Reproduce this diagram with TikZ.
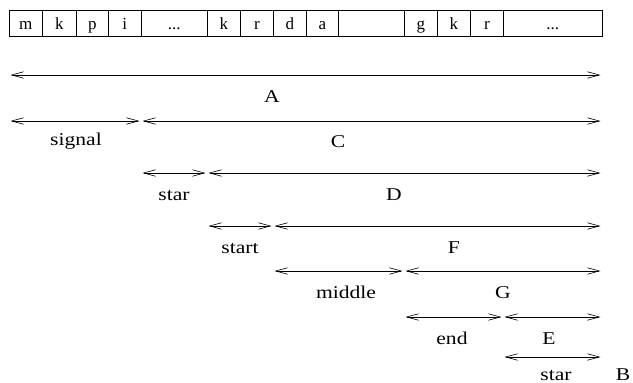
\documentclass[tikz,border=0pt]{standalone}
\usepackage{fontspec}
\setmainfont{Liberation Serif}
\usetikzlibrary{arrows.meta}
\def\celldots{...}
\newcommand\wide[1]{\scalebox{1.2}[1]{#1}}
\begin{document}
\begin{tikzpicture}[x=1pt,y=-1pt,
  cell/.style={draw, line width=0.7pt, minimum height=26.5pt, inner sep=0pt, anchor=north west,
    text height=14pt, text depth=2pt, font=\fontsize{17}{17}\selectfont},
  span/.style={line width=0.6pt, {Straight Barb[length=12pt,width=6.5pt]}-{Straight Barb[length=12pt,width=6.5pt]},
    shorten <=1.5pt, shorten >=1.5pt},
  lbl/.style={font=\fontsize{18}{18}\selectfont, inner sep=0pt, anchor=base}]
\useasboundingbox (0,0) rectangle (633,383);
% cell row
\foreach \x/\w/\t [count=\i] in {9/33/m, 42/34/k, 76/32/p, 108/33/i, 141/66/\celldots, 207/33/k, 240/33/r,
  273/33/d, 306/32/a, 338/66/{}, 404/33/g, 437/33/k, 470/33/r, 503/99/\celldots}
  \node[cell, minimum width=\w pt] (c\i) at (\x,9.5) {\t};
% coordinates
\coordinate (a0) at (9,75);    \coordinate (a1) at (602,75);
\coordinate (b0) at (9,121);   \coordinate (b1) at (141,121);  \coordinate (b2) at (602,121);
\coordinate (d0) at (141,173); \coordinate (d1) at (207,173);  \coordinate (d2) at (602,173);
\coordinate (f0) at (207,226); \coordinate (f1) at (273,226);  \coordinate (f2) at (602,226);
\coordinate (g0) at (273,271); \coordinate (g1) at (404,271);  \coordinate (g2) at (602,271);
\coordinate (e0) at (404,317); \coordinate (e1) at (503,317);  \coordinate (e2) at (602,317);
\coordinate (s0) at (503,357); \coordinate (s1) at (602,357);
% spans
\draw[span] (a0) -- (a1);
\draw[span] (b0) -- (b1);
\draw[span] (b1) -- (b2);
\draw[span] (d0) -- (d1);
\draw[span] (d1) -- (d2);
\draw[span] (f0) -- (f1);
\draw[span] (f1) -- (f2);
\draw[span] (g0) -- (g1);
\draw[span] (g1) -- (g2);
\draw[span] (e0) -- (e1);
\draw[span] (e1) -- (e2);
\draw[span] (s0) -- (s1);
% labels
\node[lbl] (lA) at (272,102) {\wide{A}};
\node[lbl] (lsignal) at (76,145) {\wide{signal}};
\node[lbl] (lC) at (338,147) {\wide{C}};
\node[lbl] (lstar1) at (174,200) {\wide{star}};
\node[lbl] (lD) at (394,200) {\wide{D}};
\node[lbl] (lstart) at (240,253) {\wide{start}};
\node[lbl] (lF) at (454,253) {\wide{F}};
\node[lbl] (lmiddle) at (346,298) {\wide{middle}};
\node[lbl] (lG) at (503,298) {\wide{G}};
\node[lbl] (lend) at (452,344) {\wide{end}};
\node[lbl] (lE) at (549,344) {\wide{E}};
\node[lbl] (lstar2) at (556,380) {\wide{star}};
\node[lbl] (lB) at (623,380) {\wide{B}};
\end{tikzpicture}
\end{document}
